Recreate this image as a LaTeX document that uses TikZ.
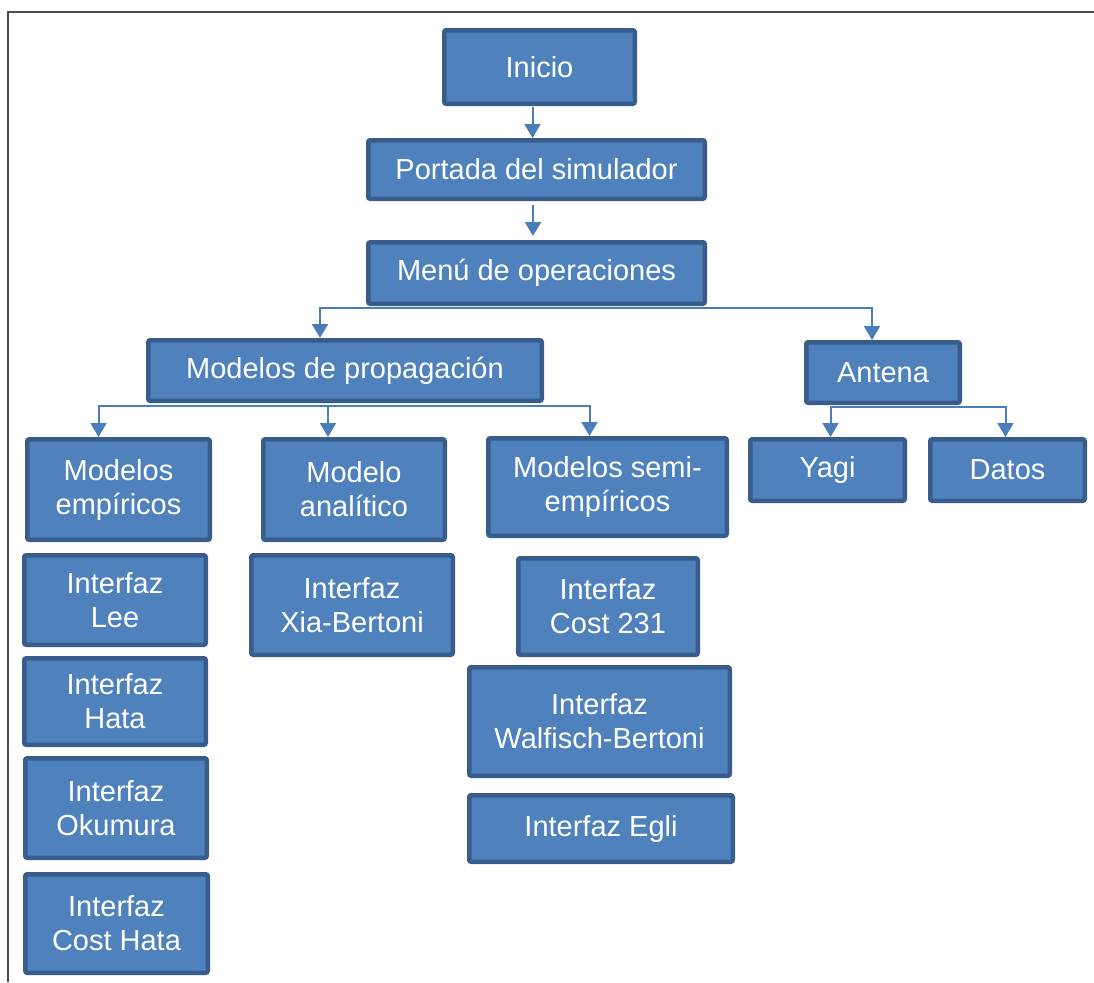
\documentclass[tikz,border=0pt]{standalone}
\usepackage{fontspec}
\setmainfont{Liberation Sans}
\usepackage{tikz}
\usetikzlibrary{calc,arrows.meta}
\definecolor{cajaazul}{HTML}{4F81BD}
\definecolor{bordeazul}{HTML}{385D8A}
\definecolor{lineaazul}{HTML}{4A7EBB}
\tikzstyle{bloque} = [rectangle, rounded corners=1pt, fill=cajaazul, draw=bordeazul, line width=2.25pt, inner sep=0pt, text=white, align=center, font=\fontsize{14.5}{17}\selectfont]
\tikzstyle{flecha} = [draw=lineaazul, line width=1pt, -{Triangle[width=8pt,length=7pt]}]

\begin{document}
\begin{tikzpicture}[x=0.5pt, y=-0.5pt]
		\useasboundingbox (0,0) rectangle (1094,982);
		\draw [black!70, line width=0.8pt] (8,982) -- (8,12) -- (1094,12);

		\node (inicio) [bloque, minimum width=95.25pt, minimum height=36.75pt] at (539.5,67) {Inicio};
		\node (portada) [bloque, minimum width=168.25pt, minimum height=29.25pt] at (536.5,169.5) {Portada del simulador};
		\node (menu) [bloque, minimum width=168.25pt, minimum height=30.75pt] at (536.5,273) {Menú de operaciones};
		\node (prop) [bloque, minimum width=196.75pt, minimum height=30.25pt] at (345,370.5) {Modelos de propagación};
		\node (antena) [bloque, minimum width=76.75pt, minimum height=30.25pt] at (883,372.5) {Antena};
		\node (emp) [bloque, minimum width=91.25pt, minimum height=50.25pt] at (118.5,489.5) {Modelos\\empíricos};
		\node (anal) [bloque, minimum width=90.75pt, minimum height=50.25pt] at (354,489.5) {Modelo\\analítico};
		\node (semi) [bloque, minimum width=119.25pt, minimum height=48.75pt] at (607.5,487) {Modelos semi-\\empíricos};
		\node (yagi) [bloque, minimum width=77.25pt, minimum height=30.75pt] at (827.5,470) {Yagi};
		\node (datos) [bloque, minimum width=77.25pt, minimum height=30.75pt] at (1007.5,470) {Datos};
		\node (lee) [bloque, minimum width=90.75pt, minimum height=44.75pt] at (115,600) {Interfaz\\Lee};
		\node (hata) [bloque, minimum width=90.75pt, minimum height=43.25pt] at (115,701.5) {Interfaz\\Hata};
		\node (okumura) [bloque, minimum width=90.75pt, minimum height=49.75pt] at (116,808) {Interfaz\\Okumura};
		\node (costhata) [bloque, minimum width=91.25pt, minimum height=49.25pt] at (116.5,923.5) {Interfaz\\Cost Hata};
		\node (xia) [bloque, minimum width=100.75pt, minimum height=49.75pt] at (352,605) {Interfaz\\Xia-Bertoni};
		\node (cost) [bloque, minimum width=89.75pt, minimum height=48.25pt] at (608,606.5) {Interfaz\\Cost 231};
		\node (walfisch) [bloque, minimum width=130.25pt, minimum height=54.25pt] at (599.5,721.5) {Interfaz\\Walfisch-Bertoni};
		\node (egli) [bloque, minimum width=131.75pt, minimum height=33.25pt] at (601,828.5) {Interfaz Egli};

		\draw [flecha] ($(inicio.south)+(-7,1)$) -- ($(portada.north)+(-4,0)$);
		\draw [flecha] ($(portada.south)+(-3.5,4)$) -- ($(menu.north)+(-3.5,-4)$);
		\draw [flecha] ($(menu.south)+(0,2)$) -| ($(prop.north)+(-25,0)$);
		\draw [flecha] ($(menu.south)+(0,2)$) -| ($(antena.north)+(-11,0)$);
		\draw [flecha] ($(prop.south)+(0,3)$) -| ($(emp.north)+(-20,0)$);
		\draw [flecha] ($(prop.south)+(0,3)$) -| ($(anal.north)+(-26,0)$);
		\draw [flecha] ($(prop.south)+(0,3)$) -| ($(semi.north)+(-18,0)$);
		\draw [flecha] ($(antena.south)+(0,2)$) -| ($(yagi.north)+(3,0)$);
		\draw [flecha] ($(antena.south)+(0,2)$) -| ($(datos.north)+(-2,0)$);
\end{tikzpicture}
\end{document}
